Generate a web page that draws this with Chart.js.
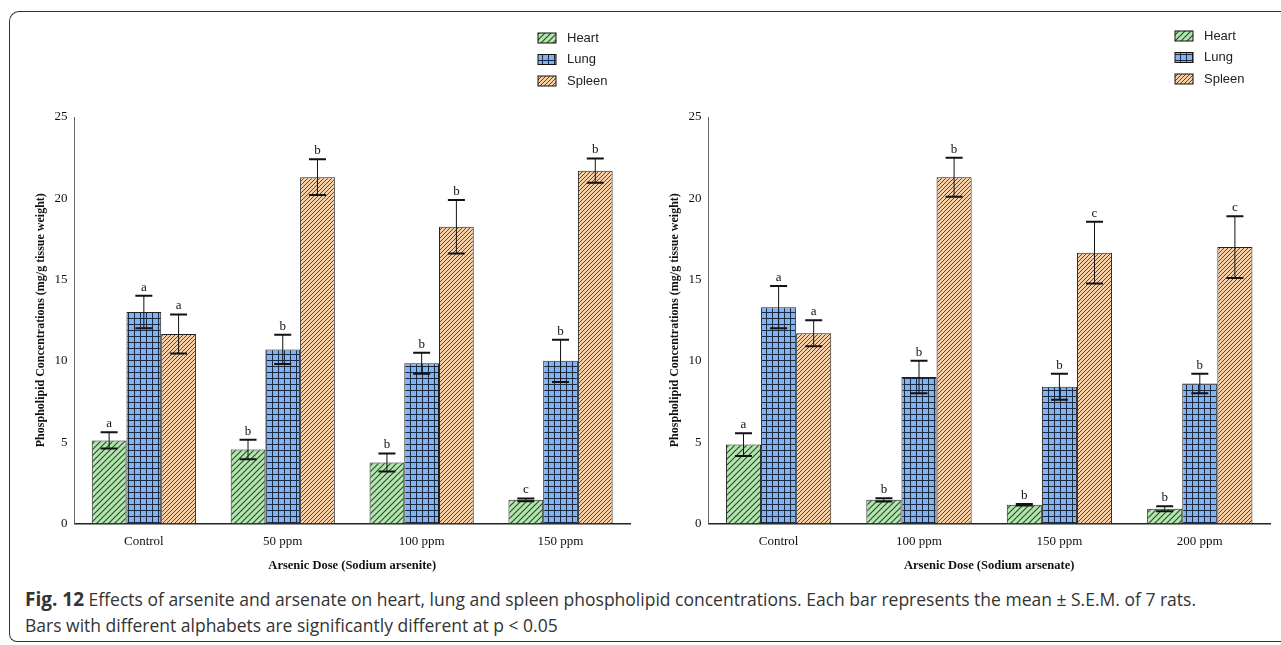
<!DOCTYPE html>
<html>
<head>
<meta charset="utf-8">
<script src="https://cdn.jsdelivr.net/npm/chart.js@4"></script>
<style>
  body { margin: 0; background: #fff; width: 1281px; height: 645px; overflow: hidden; position: relative; }
  .frame { position: absolute; left: 9px; top: 11px; width: 1290px; height: 629px; border-left: 1.5px solid #333; border-top: 1.5px solid #333; border-bottom: 1.5px solid #333; border-top-left-radius: 10px; border-bottom-left-radius: 8px; }
  .wrap { position: absolute; top: 12px; height: 565px; }
  #w1 { left: 14px; width: 626px; }
  #w2 { left: 640px; width: 640px; }
  .cap { position: absolute; left: 25px; top: 586px; width: 1205px; font-family: "Open Sans", sans-serif; font-size: 17.5px; color: #333; line-height: 26px; }
  .cap b { font-weight: 700; font-size: 19px; }
</style>
</head>
<body>
<div class="frame"></div>
<div class="wrap" id="w1"><canvas id="c1"></canvas></div>
<div class="wrap" id="w2"><canvas id="c2"></canvas></div>
<div class="cap"><b>Fig. 12</b> Effects of arsenite and arsenate on heart, lung and spleen phospholipid concentrations. Each bar represents the mean ± S.E.M. of 7 rats. Bars with different alphabets are significantly different at p &lt; 0.05</div>
<script>
// ---- data ----
const seriesNames = ['Heart', 'Lung', 'Spleen'];

const doseLeft = ['Control', '50 ppm', '100 ppm', '150 ppm'];
const heartLeft = [5.1, 4.55, 3.75, 1.45];
const lungLeft = [13.0, 10.7, 9.85, 10.0];
const spleenLeft = [11.65, 21.3, 18.25, 21.7];
const heartSemLeft = [0.5, 0.6, 0.55, 0.08];
const lungSemLeft = [1.0, 0.9, 0.65, 1.3];
const spleenSemLeft = [1.2, 1.1, 1.65, 0.75];
const heartTagLeft = ['a', 'b', 'b', 'c'];
const lungTagLeft = ['a', 'b', 'b', 'b'];
const spleenTagLeft = ['a', 'b', 'b', 'b'];

const doseRight = ['Control', '100 ppm', '150 ppm', '200 ppm'];
const heartRight = [4.85, 1.45, 1.15, 0.9];
const lungRight = [13.3, 9.0, 8.4, 8.6];
const spleenRight = [11.7, 21.3, 16.65, 17.0];
const heartSemRight = [0.7, 0.1, 0.05, 0.15];
const lungSemRight = [1.3, 1.0, 0.8, 0.6];
const spleenSemRight = [0.8, 1.2, 1.9, 1.9];
const heartTagRight = ['a', 'b', 'b', 'b'];
const lungTagRight = ['a', 'b', 'b', 'b'];
const spleenTagRight = ['a', 'b', 'c', 'c'];

const yTicks = [0, 5, 10, 15, 20, 25];

// ---- patterns ----
function makePattern(kind) {
    const c = document.createElement('canvas');
    const ctx = c.getContext('2d');
    if (kind === 'heart') {
        c.width = c.height = 6;
        ctx.fillStyle = '#b4e6b0'; ctx.fillRect(0, 0, 6, 6);
        ctx.strokeStyle = '#2f4f2f'; ctx.lineWidth = 1.2;
        ctx.beginPath();
        ctx.moveTo(-1, 7); ctx.lineTo(7, -1);
        ctx.moveTo(-4, 4); ctx.lineTo(4, -4);
        ctx.moveTo(2, 10); ctx.lineTo(10, 2);
        ctx.stroke();
    } else if (kind === 'lung') {
        c.width = c.height = 6;
        ctx.fillStyle = '#80b4f4'; ctx.fillRect(0, 0, 6, 6);
        ctx.fillStyle = '#1c2a40';
        ctx.fillRect(0, 0, 6, 1); ctx.fillRect(0, 0, 1, 6);
    } else {
        c.width = c.height = 4;
        ctx.fillStyle = '#f6cfa6'; ctx.fillRect(0, 0, 4, 4);
        ctx.strokeStyle = '#4a3828'; ctx.lineWidth = 0.9;
        ctx.beginPath();
        ctx.moveTo(-1, 5); ctx.lineTo(5, -1);
        ctx.moveTo(-3, 3); ctx.lineTo(3, -3);
        ctx.moveTo(1, 7); ctx.lineTo(7, 1);
        ctx.stroke();
    }
    return c.getContext('2d').createPattern(c, 'repeat');
}
const fills = [makePattern('heart'), makePattern('lung'), makePattern('spleen')];

// Error bars + letters + legend
const extrasPlugin = {
    id: 'extras',
    afterDatasetsDraw(chart, args, opts) {
        const ctx = chart.ctx;
        const y = chart.scales.y;
        ctx.save();
        chart.data.datasets.forEach((ds, di) => {
            const meta = chart.getDatasetMeta(di);
            meta.data.forEach((bar, i) => {
                const v = ds.data[i], s = ds.sem[i];
                const yt = y.getPixelForValue(v + s), yb = y.getPixelForValue(v - s);
                const x = bar.x, hw = 8.5;
                ctx.strokeStyle = '#111';
                ctx.lineWidth = 1;
                ctx.beginPath(); ctx.moveTo(x, yt); ctx.lineTo(x, yb); ctx.stroke();
                ctx.lineWidth = 2;
                ctx.beginPath();
                ctx.moveTo(x - hw, yt); ctx.lineTo(x + hw, yt);
                ctx.moveTo(x - hw, yb); ctx.lineTo(x + hw, yb);
                ctx.stroke();
                ctx.fillStyle = '#111';
                ctx.font = '13px "Liberation Serif", serif';
                ctx.textAlign = 'center';
                ctx.textBaseline = 'bottom';
                ctx.fillText(ds.tag[i], x, yt - 2);
            });
        });
        // legend
        chart.data.datasets.forEach((ds, di) => {
            const lx = opts.x, ly = opts.y + di * 21.5;
            ctx.fillStyle = fills[di];
            ctx.fillRect(lx, ly - 4, 18, 10);
            ctx.strokeStyle = '#111'; ctx.lineWidth = 1;
            ctx.strokeRect(lx, ly - 4, 18, 10);
            ctx.fillStyle = '#222';
            ctx.font = '13px "Liberation Sans", Arial, sans-serif';
            ctx.textAlign = 'left'; ctx.textBaseline = 'middle';
            ctx.fillText(ds.label, lx + 29, ly + 1);
        });
        ctx.restore();
    }
};

function build(id, labels, vals, sems, tags, xTitle, legendPos, padLeft) {
    new Chart(document.getElementById(id), {
        type: 'bar',
        data: {
            labels: labels,
            datasets: vals.map((d, i) => ({
                label: seriesNames[i], data: d, sem: sems[i], tag: tags[i],
                backgroundColor: fills[i], borderColor: '#222', borderWidth: 1,
                categoryPercentage: 0.75, barPercentage: 1
            }))
        },
        options: {
            responsive: true, maintainAspectRatio: false, animation: false,
            layout: { padding: { top: 105, right: 10, left: padLeft, bottom: 0 } },
            plugins: { legend: { display: false }, tooltip: { enabled: false }, extras: legendPos },
            scales: {
                x: {
                    grid: { display: false, drawTicks: true, tickLength: 6 },
                    border: { color: '#222', width: 1.5 },
                    ticks: { color: '#111', padding: 4, font: { family: '"Liberation Serif", serif', size: 13 } },
                    title: { display: true, text: xTitle, color: '#111', padding: { top: 5 },
                        font: { family: '"Liberation Serif", serif', size: 12.5, weight: 'bold' } }
                },
                y: {
                    min: 0, max: 25,
                    afterBuildTicks: (ax) => { ax.ticks = yTicks.map(v => ({ value: v })); },
                    grid: { display: false, drawTicks: true, tickLength: 5 },
                    border: { color: '#666', width: 1 },
                    ticks: { color: '#111', padding: 2, font: { family: '"Liberation Serif", serif', size: 13 } },
                    title: { display: true, text: 'Phospholipid Concentrations (mg/g tissue weight)', color: '#111',
                        font: { family: '"Liberation Serif", serif', size: 12, weight: 'bold' } }
                }
            }
        },
        plugins: [extrasPlugin]
    });
}

build('c1', doseLeft, [heartLeft, lungLeft, spleenLeft],
    [heartSemLeft, lungSemLeft, spleenSemLeft], [heartTagLeft, lungTagLeft, spleenTagLeft],
    'Arsenic Dose (Sodium arsenite)', { x: 524, y: 25 }, 16);
build('c2', doseRight, [heartRight, lungRight, spleenRight],
    [heartSemRight, lungSemRight, spleenSemRight], [heartTagRight, lungTagRight, spleenTagRight],
    'Arsenic Dose (Sodium arsenate)', { x: 535, y: 23 }, 24);
</script>
</body>
</html>
